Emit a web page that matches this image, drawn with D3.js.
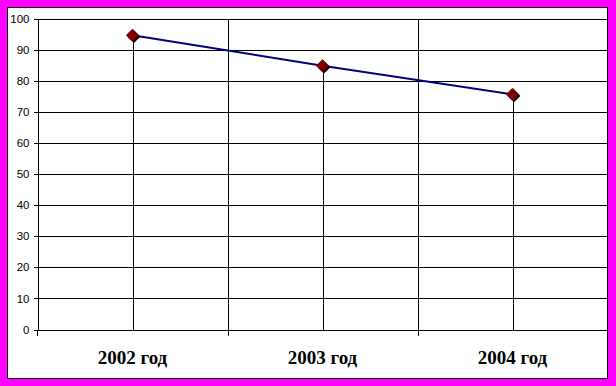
<!DOCTYPE html>
<html><head><meta charset="utf-8">
<script src="https://cdn.jsdelivr.net/npm/d3@7"></script>
<style>html,body{margin:0;padding:0;background:#ff00ff;}svg{display:block;}</style>
</head><body>
<script>
const categories = ["2002 год", "2003 год", "2004 год"];
const values = [94.6, 84.8, 75.6];
const yTicks = [0, 10, 20, 30, 40, 50, 60, 70, 80, 90, 100];

(function () {
const W = 616, H = 386;
const svg = d3.select("body").append("svg").attr("width", W).attr("height", H);
svg.append("rect").attr("width", W).attr("height", H).attr("fill", "#ff00ff");
svg.append("rect").attr("x", 7.5).attr("y", 7.5).attr("width", 600).attr("height", 371)
  .attr("fill", "#fff").attr("stroke", "#000").attr("stroke-width", 1);

const pl = 37.5, pr = 607.5, pt = 18.5, pb = 329.5;
const x = d3.scaleBand().domain(categories).range([pl, pr]);
const y = d3.scaleLinear().domain([0, 100]).range([pb, pt]);

const g = svg.append("g").attr("shape-rendering", "crispEdges");
g.selectAll("line.h").data(yTicks.filter(d => d > 0)).enter().append("line")
  .attr("x1", pl).attr("x2", pr).attr("y1", d => Math.round(y(d)) + 0.5).attr("y2", d => Math.round(y(d)) + 0.5)
  .attr("stroke", "#000");
const bounds = categories.slice(1).map(c => x(c));
g.selectAll("line.v").data(bounds).enter().append("line")
  .attr("x1", d => Math.round(d) + 0.5).attr("x2", d => Math.round(d) + 0.5)
  .attr("y1", pt).attr("y2", pb + 6).attr("stroke", "#000");
g.selectAll("line.drop").data(categories).enter().append("line")
  .attr("x1", d => Math.round(x(d) + x.bandwidth() / 2) + 0.5)
  .attr("x2", d => Math.round(x(d) + x.bandwidth() / 2) + 0.5)
  .attr("y1", (d, i) => y(values[i])).attr("y2", pb).attr("stroke", "#000");

const yAxis = d3.axisLeft(y).tickValues(yTicks).tickSize(4).tickPadding(4);
const ya = svg.append("g").attr("transform", `translate(${pl},0)`).call(yAxis);
ya.selectAll("path,line").attr("stroke", "#000").attr("shape-rendering", "crispEdges");
ya.selectAll("text").attr("font-family", "Liberation Sans, Arial, sans-serif").attr("font-size", 11.5).attr("fill", "#000");

const xa = svg.append("g").attr("transform", `translate(0,${pb})`)
  .call(d3.axisBottom(x).tickSize(0).tickPadding(21).tickSizeOuter(0));
xa.select("path").attr("stroke", "#000").attr("shape-rendering", "crispEdges");
xa.selectAll("text").attr("font-family", "Liberation Serif, Times New Roman, serif")
  .attr("font-size", 19).attr("font-weight", "bold").attr("fill", "#000");
svg.append("line").attr("x1", pl).attr("x2", pl).attr("y1", pb).attr("y2", pb + 6)
  .attr("stroke", "#000").attr("shape-rendering", "crispEdges");

const pts = categories.map((c, i) => [x(c) + x.bandwidth() / 2, y(values[i])]);
svg.append("path").attr("d", d3.line()(pts)).attr("fill", "none").attr("stroke", "#000080").attr("stroke-width", 2);

const sq = d3.symbol().type(d3.symbolSquare).size(80)();
svg.selectAll("path.sh").data(pts).enter().append("path").attr("class", "sh")
  .attr("d", sq).attr("transform", d => `translate(${d[0] + 1.5},${d[1] + 1.5}) rotate(45)`)
  .attr("fill", "#000");
svg.selectAll("path.mk").data(pts).enter().append("path").attr("class", "mk")
  .attr("d", sq).attr("transform", d => `translate(${d[0]},${d[1]}) rotate(45)`)
  .attr("fill", "#800000").attr("stroke", "#600000").attr("stroke-width", 0.5);
})();
</script>
</body></html>
